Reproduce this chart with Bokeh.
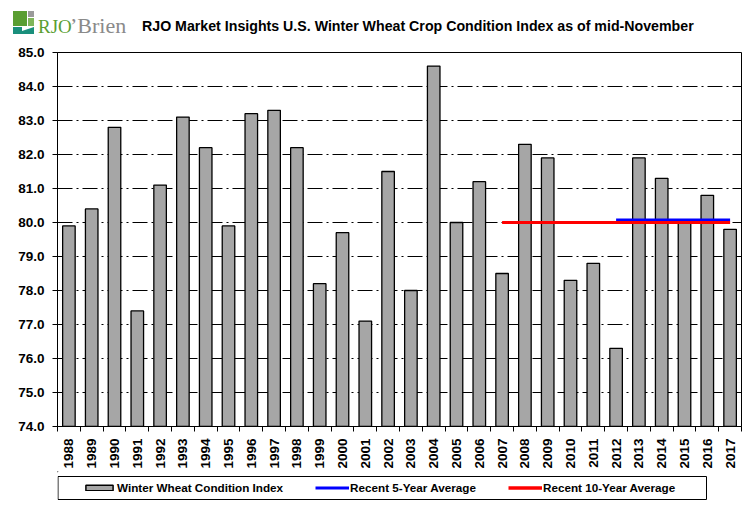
from bokeh.plotting import figure
from bokeh.models import (Range1d, FixedTicker, Legend, LegendItem, ColumnDataSource, Div)
from bokeh.layouts import column
from bokeh.embed import file_html
from bokeh.resources import INLINE
import math

years = [str(y) for y in range(1988, 2018)]
index_values = [79.9, 80.4, 82.8, 77.4, 81.1, 83.1, 82.2, 79.9, 83.2, 83.3,
                82.2, 78.2, 79.7, 77.1, 81.5, 78.0, 84.6, 80.0, 81.2, 78.5,
                82.3, 81.9, 78.3, 78.8, 76.3, 81.9, 81.3, 80.0, 80.8, 79.8]
avg5_years = ["2012", "2017"]
avg5_values = [80.07, 80.07]
avg10_years = ["2007", "2017"]
avg10_values = [80.0, 80.0]
y_ticks = [74, 75, 76, 77, 78, 79, 80, 81, 82, 83, 84, 85]
title_text = "RJO Market Insights U.S. Winter Wheat Crop Condition Index as of mid-November"
legend_labels = ["Winter Wheat Condition Index", "Recent 5-Year Average", "Recent 10-Year Average"]

FONT = "Liberation Sans"
BAR_FILL = "#a6a6a6"
BLUE = "#0000ff"
RED = "#ff0000"
W = 748

# ---------- header (logo + title) ----------
def box(l, t, w, h, c):
    return (f'<div style="position:absolute;left:{l}px;top:{t}px;width:{w}px;'
            f'height:{h}px;background:{c}"></div>')

header_html = (
    '<div style="position:relative;width:748px;height:44px;overflow:hidden;background:white">'
    + box(13, 11, 14, 15, "#5a9e32")
    + box(28, 11, 6, 6, "#9a9a9a")
    + box(28, 18, 6, 8, "#7fb55a")
    + '<div style="position:absolute;left:13px;top:27px;width:0;height:0;'
      'border-left:21px solid transparent;border-bottom:7px solid #1a8f7c"></div>'
    + '<div style="position:absolute;left:13px;top:27px;width:9px;height:7px;background:#1a8f7c"></div>'
    + '<span style="position:absolute;left:38px;top:17px;font-family:\'Liberation Serif\';'
      'font-size:19px;line-height:19px;color:#5a9e32;white-space:nowrap">RJO</span>'
    + '<span style="position:absolute;left:70px;top:15px;font-family:\'Liberation Serif\';'
      'font-size:22px;line-height:22px;color:#8a8a8a;white-space:nowrap">\u2019Brien</span>'
    + f'<span style="position:absolute;left:142px;top:19px;font-family:\'{FONT}\';'
      f'font-weight:bold;font-size:14.2px;line-height:14px;color:black;white-space:nowrap">{title_text}</span>'
    + '</div>'
)
hdr = Div(text=header_html, width=W, height=44, margin=0,
          styles={"overflow": "hidden"})

# ---------- main chart ----------
pos = {y: i + 0.5 for i, y in enumerate(years)}
src = ColumnDataSource(dict(x=[pos[y] for y in years], top=index_values))

p = figure(width=W, height=427, output_backend="svg", toolbar_location=None,
           x_range=Range1d(0, len(years)), y_range=Range1d(74, 85),
           min_border_left=57, min_border_right=7, min_border_top=8,
           min_border_bottom=44)
p.background_fill_color = "white"
p.border_fill_color = "white"
p.outline_line_color = "black"
p.outline_line_width = 1

p.vbar(x="x", top="top", bottom=74, width=0.55, source=src,
       fill_color=BAR_FILL, line_color="black", line_width=1.3)
p.line([pos[y] for y in avg5_years], avg5_values, line_color=BLUE, line_width=3)
p.line([pos[y] for y in avg10_years], avg10_values, line_color=RED, line_width=3.2)

p.xgrid.visible = False
p.ygrid.grid_line_color = "black"
p.ygrid.grid_line_dash = "15 4 2 4"
p.ygrid.grid_line_width = 1
p.yaxis.ticker = FixedTicker(ticks=y_ticks)
p.yaxis.major_label_overrides = {t: f"{t:.1f}" for t in y_ticks}
p.yaxis.major_tick_in = 0
p.yaxis.major_tick_out = 5
p.yaxis.minor_tick_line_color = None
p.yaxis.major_label_standoff = 8
p.yaxis.major_label_text_font = FONT
p.yaxis.major_label_text_font_style = "bold"
p.yaxis.major_label_text_font_size = "13.5px"
p.yaxis.major_label_text_color = "black"
p.yaxis.axis_line_color = "black"

p.xaxis.ticker = FixedTicker(ticks=[pos[y] for y in years],
                             minor_ticks=list(range(0, len(years) + 1)))
p.xaxis.major_label_overrides = {pos[y]: y for y in years}
p.xaxis.major_tick_line_color = None
p.xaxis.minor_tick_in = 0
p.xaxis.minor_tick_out = 5
p.xaxis.minor_tick_line_color = "black"
p.xaxis.major_label_orientation = math.pi / 2
p.xaxis.major_label_standoff = 6
p.xaxis.major_label_text_font = FONT
p.xaxis.major_label_text_font_style = "bold"
p.xaxis.major_label_text_font_size = "13.5px"
p.xaxis.major_label_text_color = "black"
p.xaxis.axis_line_color = "black"

# ---------- legend strip (page x 57..741, page y 471..508) ----------
lg = figure(width=W, height=37, output_backend="svg", toolbar_location=None,
            x_range=Range1d(57, 741), y_range=Range1d(508, 471),
            x_axis_location=None, y_axis_location=None,
            min_border_left=57, min_border_right=7, min_border_top=0,
            min_border_bottom=0)
lg.grid.visible = False
lg.outline_line_color = None
lg.background_fill_color = "white"
lg.border_fill_color = "white"
lg.quad(left=[57.5], right=[706], top=[476], bottom=[499], fill_alpha=0,
        line_color="black", line_width=1)
dummy = ColumnDataSource(dict(x=[-1000.0, -999.0], y=[-1000.0, -999.0]))
r_bar = lg.vbar(x="x", top="y", bottom=-1001, width=0.5, source=dummy,
                fill_color=BAR_FILL, line_color="black", line_width=1.5)
r5 = lg.line(x="x", y="y", source=dummy, line_color=BLUE, line_width=3)
r10 = lg.line(x="x", y="y", source=dummy, line_color=RED, line_width=3.5)
legend = Legend(items=[LegendItem(label=legend_labels[0], renderers=[r_bar]),
                       LegendItem(label=legend_labels[1], renderers=[r5]),
                       LegendItem(label=legend_labels[2], renderers=[r10])],
                orientation="horizontal", location=(25, 14),
                padding=0, margin=0, spacing=32, glyph_width=34, glyph_height=7,
                label_height=13, label_standoff=1,
                border_line_alpha=0, background_fill_alpha=0,
                label_text_font=FONT, label_text_font_style="bold",
                label_text_font_size="11.7px", label_text_color="black")
lg.add_layout(legend)

layout = column(hdr, p, lg, spacing=0)
open("out.html", "w").write(file_html(layout, INLINE))
